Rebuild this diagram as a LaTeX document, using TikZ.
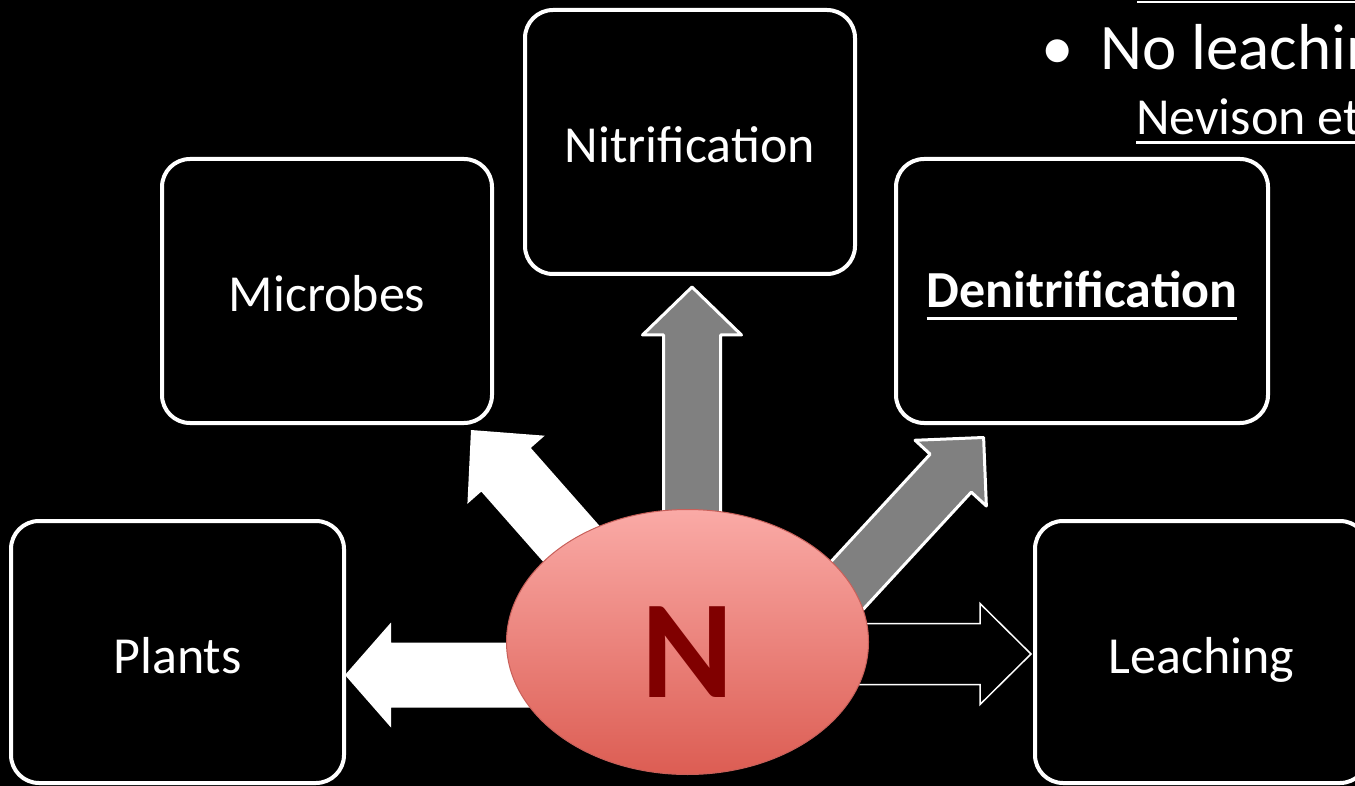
\documentclass[tikz,border=0pt]{standalone}
\usepackage{fontspec}
\setmainfont{Carlito}
\usetikzlibrary{calc,shapes.geometric}
\definecolor{nred}{HTML}{800000}
\definecolor{agray}{HTML}{808080}
\definecolor{etop}{HTML}{FAAAA6}
\definecolor{ebot}{HTML}{DC5D53}
\definecolor{eborder}{HTML}{C8605A}
\newcommand\ulbox[3]{\setbox0\hbox{#1}\rlap{\rule[#2]{\wd0}{#3}}\box0}
% #1 style, #2 tail, #3 tip, #4 shaft half width, #5 head half width, #6 head length
\newcommand\blockarrow[6]{%
  \coordinate (ba-b) at ($(#3)!#6!(#2)$);
  \path[#1] ($(#2)!#4!90:(#3)$) -- ($(ba-b)!#4!90:(#3)$) -- ($(ba-b)!#5!90:(#3)$)
    -- (#3) -- ($(ba-b)!#5!-90:(#3)$) -- ($(ba-b)!#4!-90:(#3)$) -- ($(#2)!#4!-90:(#3)$) -- cycle;}
\tikzset{
  box/.style={draw=white, line width=4pt, fill=black, rounded corners=28pt,
    minimum width=330pt, minimum height=264pt, inner sep=0pt, text=white,
    font=\fontsize{52}{62}\selectfont, text height=42pt, text depth=0pt},
  whitearrow/.style={fill=white},
  grayarrow/.style={fill=agray, draw=white, line width=3pt, line join=round},
  outlinearrow/.style={draw=white, line width=1.5pt},
  slide text/.style={anchor=base west, inner sep=0pt, text=white}
}
\begin{document}
\begin{tikzpicture}[x=1pt,y=-1pt]
\useasboundingbox (0,0) rectangle (1355,786);
\clip (0,0) rectangle (1355,786);
\fill[black] (0,0) rectangle (1355,786);

% boxes
\node[box] (nit) at (690,142) {Nitrification};
\node[box] (mic) at (327,291) {Microbes};
\node[box, minimum width=372pt, text height=34pt] (den) at (1082,291) {\bfseries\ulbox{Denitrification}{-12pt}{2.7pt}};
\node[box, minimum width=333pt, minimum height=262pt] (pla) at (177.5,652) {Plants};
\node[box, minimum width=333pt, minimum height=262pt] (lea) at (1201.5,652) {Leaching};

% arrow end points
\coordinate (leaS) at (800,654);   \coordinate (leaT) at (1031,654);
\coordinate (plaS) at (560,675);   \coordinate (plaT) at (345,675);
\coordinate (micS) at (605,582);   \coordinate (micT) at (471,430);
\coordinate (nitS) at (692,600);   \coordinate (nitT) at (692,287);
\coordinate (denS) at (821.8,612.9); \coordinate (denT) at (983.6,437.5);

\blockarrow{outlinearrow}{leaS}{leaT}{30.5pt}{50.5pt}{51pt}
\blockarrow{whitearrow}{plaS}{plaT}{32.5pt}{52.5pt}{46pt}
\blockarrow{whitearrow}{micS}{micT}{33pt}{51.5pt}{53pt}
\blockarrow{grayarrow}{nitS}{nitT}{28.5pt}{49.5pt}{48pt}
\blockarrow{grayarrow}{denS}{denT}{28pt}{48.5pt}{48.5pt}

% central N
\node[ellipse, minimum width=362pt, minimum height=265pt, inner sep=0pt,
  draw=eborder, line width=1pt, top color=etop, bottom color=ebot,
  text=nred, font=\fontsize{140}{160}\selectfont\bfseries,
  text height=110pt, text depth=0pt] (n) at (687.5,642) {N};

% top right text
\draw[white, line width=2.5pt] (1137,2) -- (1360,2);
\node[slide text, anchor=base, font=\fontsize{65}{78}\selectfont] (bul) at (1057.5,70) {•};
\node[slide text, font=\fontsize{65}{78}\selectfont] (nol) at (1100,70) {No leaching};
\node[slide text, font=\fontsize{52}{62}\selectfont] (nev) at (1136,135) {\ulbox{Nevison et al.}{-9pt}{2.5pt}};
\end{tikzpicture}
\end{document}
